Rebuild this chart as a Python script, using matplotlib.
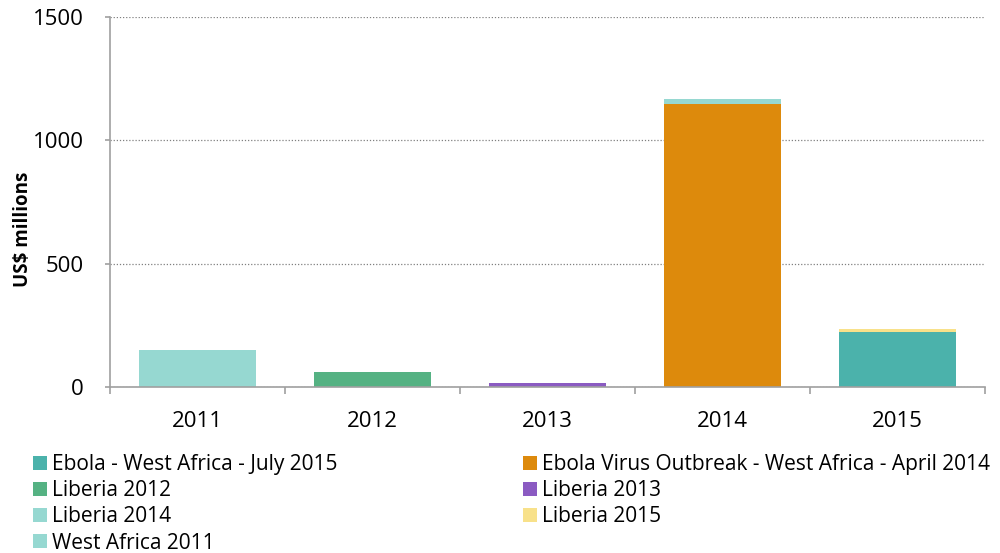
import numpy as np
import matplotlib.pyplot as plt
from matplotlib.ticker import FixedLocator, MultipleLocator

# categories
years = ['2011', '2012', '2013', '2014', '2015']

# series values (US$ millions), one value per year
west_africa_2011 = [150, 0, 0, 0, 0]
liberia_2012 = [0, 61, 0, 0, 0]
liberia_2013 = [0, 0, 16, 0, 0]
ebola_apr_2014 = [0, 0, 0, 1148, 0]
liberia_2014 = [0, 0, 0, 20, 0]
ebola_jul_2015 = [0, 0, 0, 0, 224]
liberia_2015 = [0, 0, 0, 0, 10]

# stack order bottom -> top
series = [
    ('West Africa 2011', west_africa_2011, '#96D8D1'),
    ('Liberia 2012', liberia_2012, '#55B283'),
    ('Liberia 2013', liberia_2013, '#8B5BC2'),
    ('Ebola Virus Outbreak - West Africa - April 2014', ebola_apr_2014, '#DD8A0C'),
    ('Liberia 2014', liberia_2014, '#96D8D1'),
    ('Ebola - West Africa - July 2015', ebola_jul_2015, '#4BB2AB'),
    ('Liberia 2015', liberia_2015, '#F8E18A'),
]

plt.rcParams['font.family'] = ['Open Sans', 'DejaVu Sans']

fig = plt.figure(figsize=(10, 5.53), dpi=100)
ax = fig.add_axes([0.11, 0.30, 0.875, 0.669])

x = np.arange(len(years))
bottom = np.zeros(len(years))
handles = {}
for name, vals, col in series:
    vals = np.array(vals, dtype=float)
    h = ax.bar(x, vals, width=0.67, bottom=bottom, color=col, label=name)
    handles[name] = h
    bottom += vals

ax.set_xlim(-0.5, len(years) - 0.5)
ax.set_ylim(0, 1500)
ax.yaxis.set_major_locator(MultipleLocator(500))
ax.grid(axis='y', linestyle=(0, (1, 1.5)), color='#808080', linewidth=0.9)
ax.set_axisbelow(True)

# x ticks: marks at category boundaries, labels at centres
ax.xaxis.set_major_locator(FixedLocator(np.arange(-0.5, len(years), 1.0)))
ax.xaxis.set_minor_locator(FixedLocator(x))
ax.set_xticklabels([], minor=False)
ax.set_xticklabels(years, minor=True)
ax.tick_params(axis='x', which='major', length=5, color='#A0A0A0', width=1.2)
ax.tick_params(axis='x', which='minor', length=0, labelsize=16, pad=17)
ax.tick_params(axis='y', length=3.6, color='#A0A0A0', width=1.2, labelsize=16, pad=15.5)

for s in ['top', 'right']:
    ax.spines[s].set_visible(False)
for s in ['left', 'bottom']:
    ax.spines[s].set_color('#A0A0A0')
    ax.spines[s].set_linewidth(1.2)

ax.set_ylabel('US$ millions', fontsize=13.5, fontweight='bold')
ax.yaxis.set_label_coords(-0.088, 0.427)

order = ['Ebola - West Africa - July 2015', 'Liberia 2012', 'Liberia 2014', 'West Africa 2011',
         'Ebola Virus Outbreak - West Africa - April 2014', 'Liberia 2013', 'Liberia 2015']
fig.legend([handles[n] for n in order], order, loc='upper left', ncol=2,
           bbox_to_anchor=(0.033, 0.179), frameon=False, fontsize=15,
           handlelength=0.68, handleheight=0.68, handletextpad=0.24,
           labelspacing=0.25, columnspacing=8.9, borderaxespad=0, borderpad=0)

fig.savefig('out.png', dpi=100)
